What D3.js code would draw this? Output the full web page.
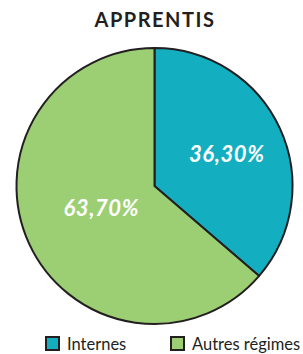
<!DOCTYPE html>
<html>
<head>
<meta charset="utf-8">
<script src="https://cdn.jsdelivr.net/npm/d3@7"></script>
<style>
  body { margin: 0; background: #fff; }
  svg { display: block; }
</style>
</head>
<body>
<svg id="chart"></svg>
<script>
const title = "APPRENTIS";
const categories = ["Internes", "Autres régimes"];
const values = [36.3, 63.7];
const labels = ["36,30%", "63,70%"];
const colors = ["#13afc1", "#9ccf74"];

const width = 303, height = 354;
const cx = 154.5, cy = 186, radius = 138;

const svg = d3.select("#chart")
    .attr("width", width)
    .attr("height", height);

svg.append("text")
    .attr("x", 155)
    .attr("y", 27)
    .attr("text-anchor", "middle")
    .attr("font-family", "Lato, sans-serif")
    .attr("font-weight", "bold")
    .attr("font-size", "20px")
    .attr("letter-spacing", "1.5px")
    .attr("fill", "#231f20")
    .text(title);

const data = categories.map((c, i) => ({ cat: c, value: values[i], label: labels[i], color: colors[i] }));

const pie = d3.pie().sort(null).value(d => d.value);
const arc = d3.arc().innerRadius(0).outerRadius(radius);

const g = svg.append("g").attr("transform", `translate(${cx},${cy})`);

const arcs = pie(data);

g.selectAll("path")
    .data(arcs)
    .join("path")
    .attr("d", arc)
    .attr("fill", d => d.data.color)
    .attr("stroke", "#231f20")
    .attr("stroke-width", 2)
    .attr("stroke-linejoin", "round");

// label positions (fraction of radius)
const labelArc = d3.arc().innerRadius(radius * 0.6).outerRadius(radius * 0.6);
const labelOffset = [[-3, 11], [22, -5]];

g.selectAll("text.lbl")
    .data(arcs)
    .join("text")
    .attr("class", "lbl")
    .attr("x", (d, i) => labelArc.centroid(d)[0] + labelOffset[i][0])
    .attr("y", (d, i) => labelArc.centroid(d)[1] + labelOffset[i][1])
    .attr("text-anchor", "middle")
    .attr("font-family", "Lato, sans-serif")
    .attr("font-weight", "bold")
    .attr("font-style", "italic")
    .attr("font-size", "22px")
    .attr("letter-spacing", "0.6px")
    .attr("fill", "#fff")
    .text(d => d.data.label);

// legend
const legendX = [45, 170];
const legend = svg.append("g");
const items = legend.selectAll("g")
    .data(data)
    .join("g")
    .attr("transform", (d, i) => `translate(${legendX[i]},336)`);

items.append("rect")
    .attr("x", 1)
    .attr("y", 1)
    .attr("width", 13)
    .attr("height", 13)
    .attr("fill", d => d.color)
    .attr("stroke", "#231f20")
    .attr("stroke-width", 2);

items.append("text")
    .attr("x", 22)
    .attr("y", 14)
    .attr("font-family", "Lato, sans-serif")
    .attr("font-size", "16.5px")
    .attr("fill", "#231f20")
    .text(d => d.cat);
</script>
</body>
</html>
